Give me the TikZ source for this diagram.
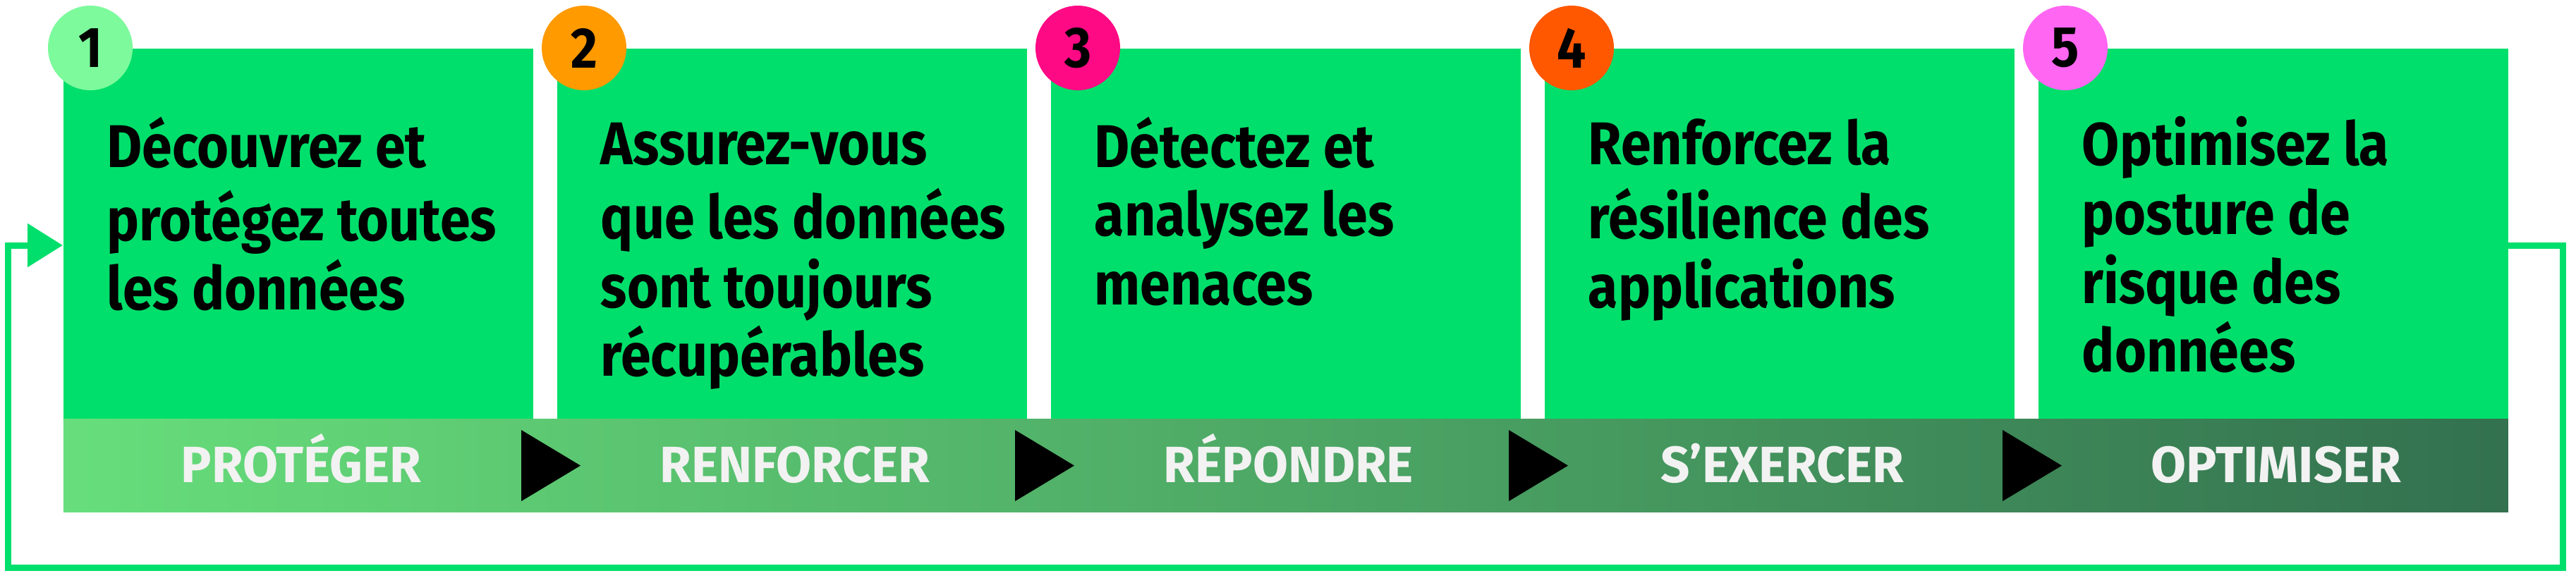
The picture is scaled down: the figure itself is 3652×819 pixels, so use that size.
\documentclass[tikz,border=0pt]{standalone}
\usepackage{fontspec}
\setmainfont{Fira Sans}[FakeStretch=0.9]
\newfontfamily\phasefont{Fira Sans}
\usepackage{xcolor}
\usepackage{tikz}
\usetikzlibrary{arrows.meta}
\definecolor{boxgreen}{HTML}{00DF6B}
\definecolor{numone}{HTML}{7CFA9C}
\definecolor{numtwo}{HTML}{FF9A00}
\definecolor{numthree}{HTML}{FF0A85}
\definecolor{numfour}{HTML}{FF5800}
\definecolor{numfive}{HTML}{FF66F2}
\definecolor{bandleft}{HTML}{67DE7B}
\definecolor{bandmid}{HTML}{4EAB63}
\definecolor{bandright}{HTML}{33714F}
\definecolor{phasetext}{HTML}{F2F2F2}
\tikzstyle{stepbox} = [rectangle,fill=boxgreen,inner sep=0pt,minimum width=166.5pt,minimum height=131.5pt,anchor=north west]
\tikzstyle{stepnum} = [circle,inner sep=0pt,minimum size=30pt,font=\fontsize{20.3pt}{22pt}\selectfont\bfseries]
\tikzstyle{steptext} = [anchor=north west,inner sep=0pt,align=left,font=\fontsize{21.4pt}{24.4pt}\selectfont\bfseries]
\tikzstyle{phase} = [anchor=base,inner sep=0pt,text=phasetext,font=\phasefont\fontsize{18.1pt}{20pt}\selectfont\bfseries]
\tikzstyle{loopline} = [draw=boxgreen,line width=2.25pt,-{Triangle[length=12.5pt,width=15pt]}]

\begin{document}
\begin{tikzpicture}[x=0.25pt,y=-0.25pt]
\useasboundingbox (0,0) rectangle (3652,819);
% boxes
\node[stepbox] (box1) at (89,68) {};
\node[stepbox] (box2) at (789,68) {};
\node[stepbox] (box3) at (1489,68) {};
\node[stepbox] (box4) at (2189,68) {};
\node[stepbox] (box5) at (2889,68) {};
% band
\node[rectangle,inner sep=0pt,anchor=north west,minimum width=866.5pt,minimum height=33pt,
  left color=bandleft,middle color=bandmid,right color=bandright] (band) at (89,594) {};
\fill (739,610) -- (823,660.5) -- (739,711) -- cycle;
\fill (1439,610) -- (1523,660.5) -- (1439,711) -- cycle;
\fill (2139,610) -- (2223,660.5) -- (2139,711) -- cycle;
\fill (2839,610) -- (2923,660.5) -- (2839,711) -- cycle;
\node[phase] (ph1) at (427,684) {PROTÉGER};
\node[phase] (ph2) at (1127,684) {RENFORCER};
\node[phase] (ph3) at (1827,684) {RÉPONDRE};
\node[phase] (ph4) at (2527,684) {S’EXERCER};
\node[phase] (ph5) at (3227,684) {OPTIMISER};
% numbers
\node[stepnum,fill=numone] (num1) at (128,68) {1};
\node[stepnum,fill=numtwo] (num2) at (828,68) {2};
\node[stepnum,fill=numthree] (num3) at (1528,68) {3};
\node[stepnum,fill=numfour] (num4) at (2228,68) {4};
\node[stepnum,fill=numfive] (num5) at (2928,68) {5};
% texts
\node[steptext] (txt1) at (151,164.7) {\strut Découvrez et\\protégez toutes\\les données};
\node[steptext] (txt2) at (851,164.7) {\strut Assurez-vous\\que les données\\sont toujours\\récupérables};
\node[steptext] (txt3) at (1551,164.7) {\strut Détectez et\\analysez les\\menaces};
\node[steptext] (txt4) at (2251,164.7) {\strut Renforcez la\\résilience des\\applications};
\node[steptext] (txt5) at (2951,164.7) {\strut Optimisez la\\posture de\\risque des\\données};
% loop back
\coordinate (loopout) at (3555,348);
\coordinate (loopin) at (89,348);
\draw[loopline] (loopout) -- (3633,348) |- (11.5,805) |- (loopin);
\end{tikzpicture}
\end{document}
